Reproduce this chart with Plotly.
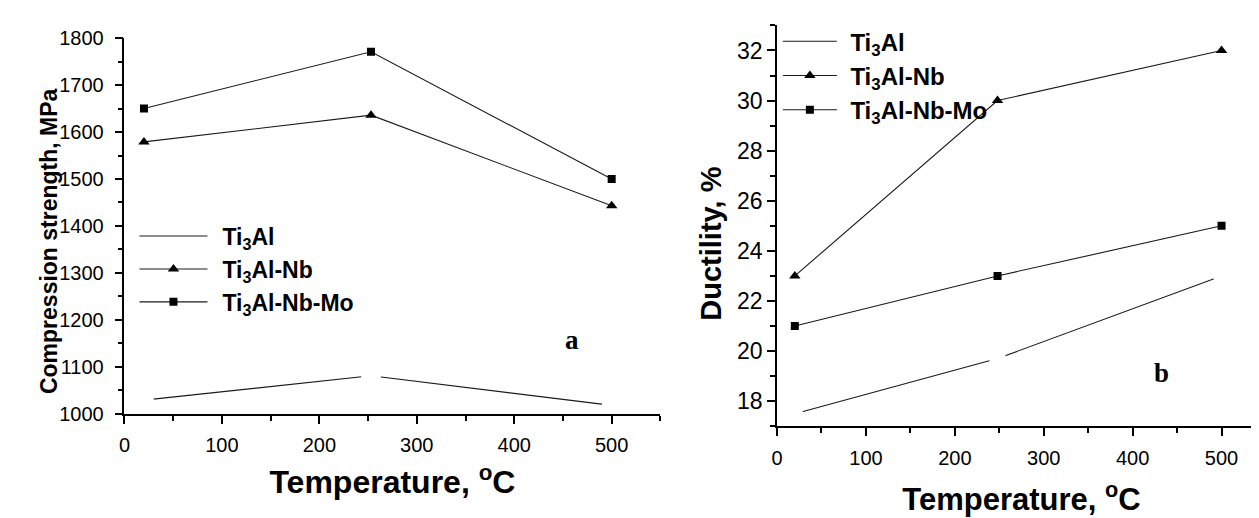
import plotly.graph_objects as go

# ---- data ----
temp_a = [20, 253, 500]          # panel a temperatures, °C
temp_b = [20, 248, 500]          # panel b temperatures, °C
comp_ti3al = [1029, 1081, 1018]  # compression strength, MPa
comp_nb = [1579, 1636, 1443]
comp_nbmo = [1650, 1771, 1500]
duct_ti3al = [17.5, 19.7, 23.0]  # ductility, %
duct_nb = [23.0, 30.0, 32.0]
duct_nbmo = [21.0, 23.0, 25.0]
series_names = ["Ti<sub>3</sub>Al", "Ti<sub>3</sub>Al-Nb", "Ti<sub>3</sub>Al-Nb-Mo"]
x_tick_vals = [0, 100, 200, 300, 400, 500]

W, H = 1259, 518
def px(x):
    return x / W
def py(y):
    return 1 - y / H

SANS = "Liberation Sans, Arial, sans-serif"
SERIF = "Liberation Serif, Times New Roman, serif"
LINE = dict(color="#1a1a1a", width=1.1)

fig = go.Figure()

# ---------- panel a ----------
fig.add_trace(go.Scatter(x=temp_a, y=comp_ti3al, mode="lines", name=series_names[0],
                         line=LINE, xaxis="x", yaxis="y", legend="legend"))
fig.add_trace(go.Scatter(x=temp_a, y=comp_ti3al, mode="markers", showlegend=False,
                         marker=dict(color="white", size=20, line=dict(width=0)),
                         hoverinfo="skip", xaxis="x", yaxis="y"))
fig.add_trace(go.Scatter(x=temp_a, y=comp_nb, mode="lines+markers", name=series_names[1],
                         line=LINE, marker=dict(symbol="triangle-up", size=10, color="black"),
                         xaxis="x", yaxis="y", legend="legend"))
fig.add_trace(go.Scatter(x=temp_a, y=comp_nbmo, mode="lines+markers", name=series_names[2],
                         line=LINE, marker=dict(symbol="square", size=8, color="black"),
                         xaxis="x", yaxis="y", legend="legend"))

# ---------- panel b ----------
fig.add_trace(go.Scatter(x=temp_b, y=duct_ti3al, mode="lines", name=series_names[0],
                         line=LINE, xaxis="x2", yaxis="y2", legend="legend2"))
fig.add_trace(go.Scatter(x=temp_b, y=duct_ti3al, mode="markers", showlegend=False,
                         marker=dict(color="white", size=17, line=dict(width=0)),
                         hoverinfo="skip", xaxis="x2", yaxis="y2"))
fig.add_trace(go.Scatter(x=temp_b, y=duct_nb, mode="lines+markers", name=series_names[1],
                         line=LINE, marker=dict(symbol="triangle-up", size=10, color="black"),
                         xaxis="x2", yaxis="y2", legend="legend2"))
fig.add_trace(go.Scatter(x=temp_b, y=duct_nbmo, mode="lines+markers", name=series_names[2],
                         line=LINE, marker=dict(symbol="square", size=8, color="black"),
                         xaxis="x2", yaxis="y2", legend="legend2"))

def axis_common(ticklabel_size, minor_dtick, standoff):
    return dict(showline=True, linecolor="black", linewidth=1.6, mirror=False,
                showgrid=False, zeroline=False, ticks="outside", ticklen=8,
                tickwidth=1.5, tickcolor="black", ticklabelstandoff=standoff,
                tickfont=dict(family=SANS, size=ticklabel_size, color="black"),
                minor=dict(ticks="outside", ticklen=5, tickwidth=1.5,
                           tickcolor="black", dtick=minor_dtick))

xa = axis_common(20, 50, 4)
xa.update(domain=[px(111), px(649.5)], range=[0, 550], tickvals=x_tick_vals, anchor="y",
          title=dict(text="Temperature, <sup>o</sup>C", standoff=16,
                     font=dict(family=SANS, size=32, color="black", weight="bold")))
ya = axis_common(20, 50, 7)
ya.update(domain=[py(412.3), py(20)], range=[1000, 1800], dtick=100, anchor="x")

xb = axis_common(20, 50, 5)
xb.update(domain=[px(766.7), px(1258)], range=[0, 550], tickvals=x_tick_vals, anchor="y2",
          title=dict(text="Temperature, <sup>o</sup>C", standoff=20,
                     font=dict(family=SANS, size=31, color="black", weight="bold")))
yb = axis_common(23, 1, 0)
yb.update(domain=[py(425.3), py(6.7)], range=[17, 33], dtick=2, anchor="x2")

legend_common = dict(xanchor="left", yanchor="top", bgcolor="rgba(0,0,0,0)",
                     borderwidth=0, tracegroupgap=0,
                     itemclick=False, itemdoubleclick=False)

fig.update_layout(
    width=W, height=H, margin=dict(l=0, r=0, t=0, b=0),
    paper_bgcolor="white", plot_bgcolor="white",
    xaxis=xa, yaxis=ya, xaxis2=xb, yaxis2=yb,
    legend=dict(x=px(111), y=py(204.3), itemwidth=88,
                font=dict(family=SANS, size=23, color="black", weight="bold"),
                **legend_common),
    legend2=dict(x=px(759), y=py(0.2), itemwidth=71,
                 font=dict(family=SANS, size=24, color="black", weight="bold"),
                 **legend_common),
    annotations=[
        dict(text="Compression strength, MPa", textangle=-90, x=px(20), y=py(232),
             xref="paper", yref="paper", showarrow=False,
             font=dict(family=SANS, size=23, color="black", weight="bold")),
        dict(text="Ductility, %", textangle=-90, x=px(700), y=py(235),
             xref="paper", yref="paper", showarrow=False,
             font=dict(family=SANS, size=29, color="black", weight="bold")),
        dict(text="a", x=px(561), y=py(353), xref="paper", yref="paper", showarrow=False,
             font=dict(family=SERIF, size=27, color="black", weight="bold")),
        dict(text="b", x=px(1163), y=py(387), xref="paper", yref="paper", showarrow=False,
             font=dict(family=SERIF, size=27, color="black", weight="bold")),
    ],
    showlegend=True,
)

# set the legend sample line span so it is centred on the legend marker,
# with the same length as in the original figure
post = """
(function(){
  var gd = document.querySelector('.plotly-graph-div');
  function fix(){
    var specs = [['g.legend', 'M15,0h68'], ['g.legend2', 'M13.5,0h54']];
    specs.forEach(function(s){
      document.querySelectorAll(s[0] + ' .legendlines path').forEach(function(p){
        p.setAttribute('d', s[1]);
      });
    });
  }
  fix();
  if (gd && gd.on) { gd.on('plotly_afterplot', fix); }
})();
"""

fig.write_html("out.html", post_script=post)
